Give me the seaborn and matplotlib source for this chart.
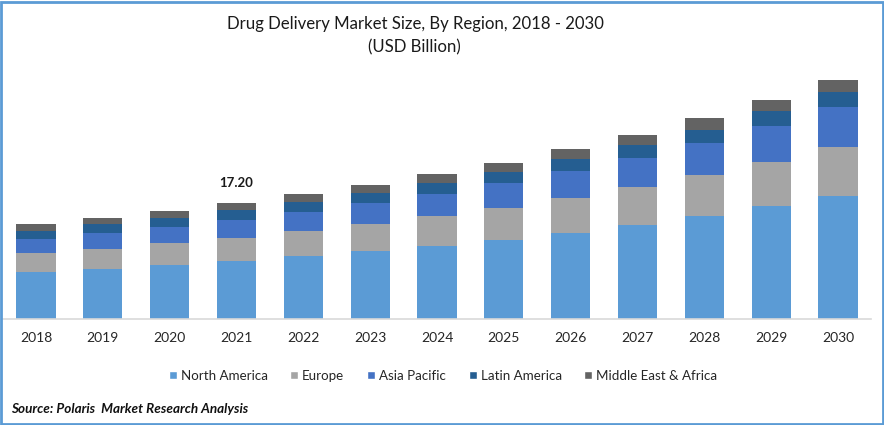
import numpy as np
import matplotlib
matplotlib.use("Agg")
import matplotlib.pyplot as plt
from matplotlib.patches import Patch, Rectangle
import seaborn as sns

# ---------- Data (USD billion) ----------
years = ["2018", "2019", "2020", "2021", "2022", "2023", "2024",
         "2025", "2026", "2027", "2028", "2029", "2030"]
north_america = [6.88, 7.33, 7.93, 8.53, 9.27, 10.02, 10.77, 11.67, 12.72, 13.91, 15.26, 16.75, 18.25]
europe = [2.84, 2.99, 3.29, 3.44, 3.74, 4.04, 4.49, 4.79, 5.24, 5.68, 6.13, 6.58, 7.33]
asia_pacific = [2.09, 2.39, 2.39, 2.69, 2.84, 3.14, 3.29, 3.74, 4.04, 4.34, 4.79, 5.24, 5.83]
latin_america = [1.20, 1.35, 1.35, 1.50, 1.50, 1.50, 1.65, 1.65, 1.80, 1.94, 1.94, 2.24, 2.24]
middle_east = [1.05, 0.90, 1.05, 1.04, 1.20, 1.20, 1.35, 1.35, 1.35, 1.50, 1.65, 1.65, 1.80]

regions = ["North America", "Europe", "Asia Pacific", "Latin America", "Middle East & Africa"]
series = [north_america, europe, asia_pacific, latin_america, middle_east]
colors = ["#5B9BD5", "#A5A5A5", "#4472C4", "#255E91", "#636363"]

W, H = 884, 425
sns.set_theme(style="white")
plt.rcParams["font.family"] = ["Lato", "DejaVu Sans"]

fig = plt.figure(figsize=(W / 100, H / 100), dpi=100)
ax = fig.add_axes([2.6 / W, 1 - 318.5 / H, 868.8 / W, 248 / H])

# ---------- Stacked bars ----------
bottom = np.zeros(len(years))
for vals, col in zip(series, colors):
    sns.barplot(x=years, y=vals, bottom=bottom, color=col, saturation=1,
                width=0.585, errorbar=None, linewidth=0, ax=ax)
    bottom = bottom + np.array(vals)

ax.set_xlim(-0.5, len(years) - 0.5)
ax.set_ylim(0, 36.9)
ax.set_yticks([])
ax.set_xlabel("")
ax.set_ylabel("")
sns.despine(ax=ax, left=True)
ax.spines["bottom"].set_color("#D9D9D9")
ax.spines["bottom"].set_linewidth(1.2)
ax.tick_params(axis="x", length=0, pad=10, labelsize=10, labelcolor="#262626")

# label on the 2021 bar
ax.annotate("17.20", xy=(3, bottom[3]), xytext=(0, 10), textcoords="offset points",
            ha="center", va="bottom", fontsize=9.5, fontweight="bold", color="#1a1a1a")

# ---------- Title, legend, source ----------
fig.text(415 / W, 1 - 24 / H, "Drug Delivery Market Size, By Region, 2018 - 2030",
         ha="center", va="center", fontsize=12.1, color="#1a1a1a")
fig.text(414 / W, 1 - 47 / H, "(USD Billion)",
         ha="center", va="center", fontsize=12.1, color="#1a1a1a")

handles = [Patch(facecolor=c, label=r) for c, r in zip(colors, regions)]
fig.legend(handles=handles, loc="center", bbox_to_anchor=(443 / W, 1 - 375.5 / H), ncol=5,
           frameon=False, fontsize=9.6, handlelength=0.6, handleheight=0.6,
           handletextpad=0.3, columnspacing=1.7, labelcolor="#262626")

fig.text(11 / W, 1 - 409 / H, "Source: Polaris  Market Research Analysis",
         ha="left", va="center", fontsize=9.7, fontweight="bold", style="italic", color="#111111")

# blue frame around the whole picture
fig.add_artist(Rectangle((1 / W, 1.5 / H), (W - 2.5) / W, (H - 3) / H, transform=fig.transFigure,
                         fill=False, edgecolor="#5B9BD5", linewidth=2))

fig.savefig("out.png", dpi=100)
